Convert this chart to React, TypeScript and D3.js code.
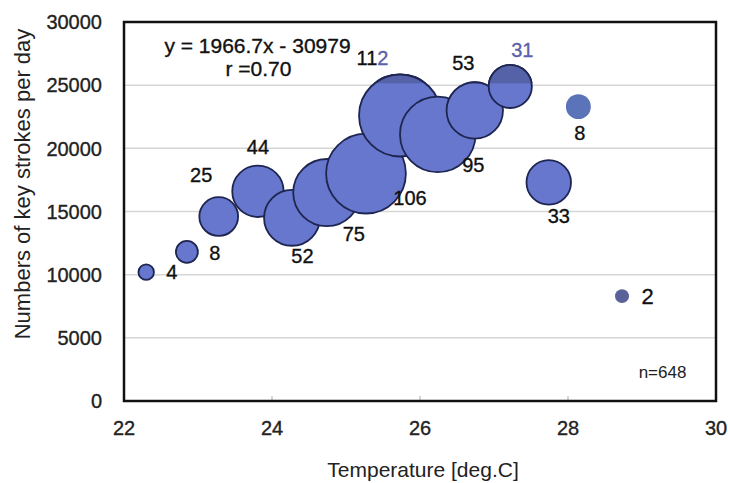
import React from "react";
import * as d3 from "d3";

// ---- data ----
const temperatures = [22.3, 22.85, 23.28, 23.81, 24.27, 24.74, 25.27, 25.73, 26.24, 26.74, 27.22, 27.74, 28.14, 28.73];
const keyStrokes = [10200, 11800, 14600, 16600, 14500, 16500, 18000, 22600, 21100, 23000, 24900, 17300, 23300, 8300];
const counts = [4, 8, 25, 44, 52, 75, 106, 112, 95, 53, 31, 33, 8, 2];
const xTicks = [22, 24, 26, 28, 30];
const yTicks = [0, 5000, 10000, 15000, 20000, 25000, 30000];
const equationText = "y = 1966.7x - 30979";
const rText = "r =0.70";
const nText = "n=648";

// ---- layout (label offsets in px from bubble centre) ----
const labelOffsets: [number, number][] = [
  [25.5, 7], [28, 8], [-17.5, -35], [0, -37], [10.5, 45], [27, 48], [44, 31],
  [-27.5, -50], [35.5, 38], [-11.5, -40], [12, -29], [10, 41], [1.5, 33], [25.5, 8],
];

const W = 730, H = 483;
const left = 124, right = 716, top = 22, bottom = 401;
const FONT = "'Liberation Sans', Arial, Helvetica, sans-serif";
const FILL = "#6677cd";
const STROKE = "#1e2550";
const DARK = "#5562a8";
const INK = "#111";

export default function App() {
  const x = d3.scaleLinear().domain([22, 30]).range([left, right]);
  const y = d3.scaleLinear().domain([0, 30000]).range([bottom, top]);
  const r = d3.scaleSqrt().domain([0, 112]).range([0, 41]);

  const data = temperatures.map((t, i) => ({ t, v: keyStrokes[i], n: counts[i], i }));
  const overlayY = y(25150);
  const textStroke = { stroke: "currentColor", strokeWidth: 0.35 } as const;

  return (
    <svg width={W} height={H} style={{ position: "absolute", left: 0, top: 0, background: "#fff" }} fontFamily={FONT}>
      <defs>
        <clipPath id="topband">
          <rect x={left} y={top} width={right - left} height={overlayY - top} />
        </clipPath>
      </defs>
      {/* gridlines */}
      {yTicks.slice(1, -1).map((v) => (
        <line key={v} x1={left} x2={right} y1={y(v)} y2={y(v)} stroke="#d6d6d6" strokeWidth={1.5} />
      ))}
      {/* minor x ticks */}
      {xTicks.slice(1, -1).map((t) => (
        <line key={t} x1={x(t)} x2={x(t)} y1={bottom} y2={bottom - 5} stroke="#c8c8c8" strokeWidth={1.5} />
      ))}
      {/* bubbles */}
      {data.map((d) => {
        const small = d.i >= 12;
        return (
          <circle
            key={d.i}
            cx={x(d.t)}
            cy={y(d.v)}
            r={small ? r(d.n) + 1.5 : r(d.n)}
            fill={d.i === 12 ? "#5b73b8" : d.i === 13 ? "#5a6399" : FILL}
            stroke={small ? "none" : STROKE}
            strokeWidth={1.8}
          />
        );
      })}
      {/* darker band at top */}
      <g clipPath="url(#topband)">
        {data.map((d) =>
          d.i >= 12 ? null : (
            <circle key={d.i} cx={x(d.t)} cy={y(d.v)} r={r(d.n)} fill={DARK} stroke={STROKE} strokeWidth={1.8} />
          )
        )}
      </g>
      {/* labels */}
      {data.map((d) => {
        const [dx, dy] = labelOffsets[d.i];
        const lx = x(d.t) + dx, ly = y(d.v) + dy;
        const fs = d.i === 13 ? 22 : 20;
        if (d.i === 7) {
          const s = String(d.n);
          return (
            <text key={d.i} x={lx} y={ly} textAnchor="middle" fontSize={fs} style={{ color: INK }} fill={INK} {...textStroke}>
              {s.slice(0, 2)}
              <tspan fill="#5a62aa" style={{ color: "#5a62aa" }} stroke="#5a62aa">{s.slice(2)}</tspan>
            </text>
          );
        }
        const c = d.i === 10 ? "#5a62aa" : INK;
        return (
          <text key={d.i} x={lx} y={ly} textAnchor="middle" fontSize={fs} fill={c} style={{ color: c }} {...textStroke}>
            {d.n}
          </text>
        );
      })}
      {/* frame */}
      <rect x={left} y={top} width={right - left} height={bottom - top} fill="none" stroke="#111" strokeWidth={2.5} />
      {/* y ticks */}
      {yTicks.map((v) => (
        <text key={v} x={102} y={y(v)} dy="0.36em" textAnchor="end" fontSize={20} fill="#222" style={{ color: "#222" }} {...textStroke}>
          {v}
        </text>
      ))}
      {/* x ticks */}
      {xTicks.map((t) => (
        <text key={t} x={x(t)} y={435} textAnchor="middle" fontSize={20} fill="#222" style={{ color: "#222" }} {...textStroke}>
          {t}
        </text>
      ))}
      {/* annotations */}
      <text x={257.5} y={53} textAnchor="middle" fontSize={21} fill={INK} style={{ color: INK }} {...textStroke}>{equationText}</text>
      <text x={258.5} y={76} textAnchor="middle" fontSize={21} fill={INK} style={{ color: INK }} {...textStroke}>{rText}</text>
      <text x={662.5} y={378} textAnchor="middle" fontSize={17} fill="#222">{nText}</text>
      {/* axis titles */}
      <text x={423} y={477} textAnchor="middle" fontSize={21} fill="#222">Temperature [deg.C]</text>
      <text transform={`translate(30,184) rotate(-90)`} textAnchor="middle" fontSize={22} fill="#222">
        Numbers of key strokes per day
      </text>
    </svg>
  );
}
